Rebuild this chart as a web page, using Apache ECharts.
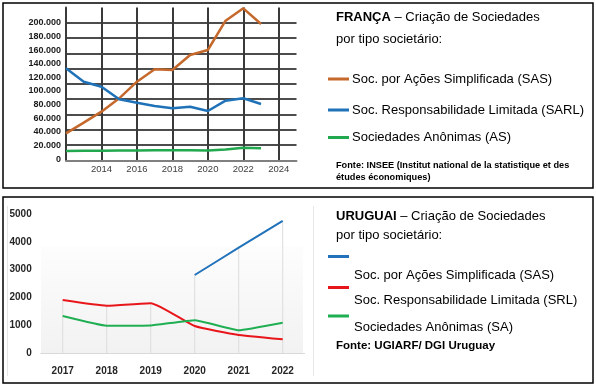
<!DOCTYPE html>
<html><head><meta charset="utf-8">
<script src="https://cdn.jsdelivr.net/npm/echarts@6/dist/echarts.min.js"></script>
<style>html,body{margin:0;padding:0;background:#fff}#c{width:596px;height:385px}</style>
</head><body><div id="c"></div>
<script>
// ---------- FRANÇA ----------
const frYears = [2012, 2013, 2014, 2015, 2016, 2017, 2018, 2019, 2020, 2021, 2022, 2023];
const frSAS  = [35300, 49200, 63600, 81100, 102800, 119000, 118100, 137700, 144300, 182600, 198800, 178300];
const frSARL = [120300, 102800, 96300, 79800, 75300, 71000, 68000, 70100, 64500, 78000, 81100, 73600];
const frAS   = [12200, 12400, 12600, 12700, 12800, 13000, 13200, 13000, 12800, 14200, 16500, 15800];
const frXTicks = [2014, 2016, 2018, 2020, 2022, 2024];
const frNames = ['Soc. por Ações Simplificada (SAS)', 'Soc. Responsabilidade Limitada (SARL)', 'Sociedades Anônimas (AS)'];

// ---------- URUGUAI ----------
const uyYears = ['2017', '2018', '2019', '2020', '2021', '2022'];
const uySAS = [null, null, null, 2810, 3790, 4750];
const uySRL = [1910, 1710, 1800, 980, 660, 500];
const uySA  = [1340, 990, 1000, 1190, 830, 1100];
const uyNames = ['Soc. por Ações Simplificada (SAS)', 'Soc. Responsabilidade Limitada (SRL)', 'Sociedades Anônimas (SA)'];

const C_OR = '#C5682B', C_BL = '#1F72B8', C_GR = '#22A84E';
const U_BL = '#2172BA', U_RD = '#E8161B', U_GR = '#1FAF52';
const F = "'Liberation Sans', Arial, sans-serif";
const FN = "'Liberation Sans Narrow', 'DejaVu Sans Condensed', 'Liberation Sans', sans-serif";

const pairs = arr => frYears.map((y, i) => [y, arr[i]]);
const thousand = v => v === 0 ? '0' : (v / 1000) + '.000';
const dropVals = uyYears.map((_, i) => Math.max(...[uySAS[i], uySRL[i], uySA[i]].filter(v => v != null)));

const chart = echarts.init(document.getElementById('c'), null, {renderer: 'canvas'});

function txt(x, y, text, size, extra) {
  return Object.assign({type: 'text', x: x, y: y, z: 10, style: Object.assign({
    text: text, fontSize: size, fontFamily: F, fill: '#000', align: 'left', verticalAlign: 'middle'}, extra || {})});
}
function seg(x1, x2, y, color) {
  return {type: 'line', z: 10, shape: {x1: x1, y1: y, x2: x2, y2: y}, style: {stroke: color, lineWidth: 3}};
}
const bold13 = {rich: {b: {fontWeight: 'bold', fontSize: 13, fontFamily: F, fill: '#000'}}};

chart.setOption({
  animation: false,
  grid: [
    {left: 66, right: 299.5, top: 7.4, bottom: 224.7},
    {left: 66, right: 299.5, top: 22.7, bottom: 225.7},
    {left: 40.7, right: 291.3, top: 214, bottom: 31.7}
  ],
  xAxis: [
    {gridIndex: 0, type: 'value', min: 2012, max: 2025, interval: 2,
     axisLine: {show: true, onZero: false, lineStyle: {color: '#808080', width: 2}},
     axisTick: {show: false},
     axisLabel: {formatter: v => frXTicks.includes(v) ? String(v) : '', fontSize: 9.5, color: '#404040', margin: 4, fontFamily: F},
     splitLine: {show: true, showMinLine: false, showMaxLine: false, lineStyle: {color: '#3a3a3a', width: 2}}},
    {gridIndex: 1, type: 'value', min: 2012, max: 2025, show: false},
    {gridIndex: 2, type: 'category', data: uyYears, boundaryGap: true,
     axisLine: {show: true, lineStyle: {color: '#d9d9d9', width: 1}},
     axisTick: {show: false},
     axisLabel: {fontWeight: 'bold', fontSize: 10, fontFamily: F, color: '#262626', margin: 13},
     splitLine: {show: false}}
  ],
  yAxis: [
    {gridIndex: 0, type: 'value', min: 0, max: 200000, interval: 20000,
     axisLine: {show: true, onZero: false, lineStyle: {color: '#3a3a3a', width: 2}},
     axisTick: {show: false}, axisLabel: {show: false},
     splitLine: {show: true, showMinLine: false, showMaxLine: false, lineStyle: {color: '#111', width: 1.5}}},
    {gridIndex: 1, type: 'value', min: 0, max: 200000, interval: 20000,
     axisLine: {show: false}, axisTick: {show: false}, splitLine: {show: false},
     axisLabel: {formatter: thousand, fontSize: 9, fontWeight: 'bold', color: '#1a1a1a', margin: 5, fontFamily: F}},
    {gridIndex: 2, type: 'value', min: 0, max: 5000, interval: 1000,
     axisLine: {show: false}, axisTick: {show: false}, splitLine: {show: false},
     axisLabel: {formatter: v => String(v), fontSize: 10, fontWeight: 'bold', color: '#262626', margin: 9, fontFamily: F}}
  ],
  series: [
    {name: frNames[0], type: 'line', xAxisIndex: 0, yAxisIndex: 0, data: pairs(frSAS), showSymbol: false, clip: false,
     lineStyle: {color: C_OR, width: 2.5}, itemStyle: {color: C_OR}},
    {name: frNames[1], type: 'line', xAxisIndex: 0, yAxisIndex: 0, data: pairs(frSARL), showSymbol: false,
     lineStyle: {color: C_BL, width: 2.5}, itemStyle: {color: C_BL}},
    {name: frNames[2], type: 'line', xAxisIndex: 0, yAxisIndex: 0, data: pairs(frAS), showSymbol: false,
     lineStyle: {color: C_GR, width: 2.5}, itemStyle: {color: C_GR}},
    {name: 'drop', type: 'bar', xAxisIndex: 2, yAxisIndex: 2, data: dropVals, barWidth: 1, silent: true, z: 1,
     itemStyle: {color: '#dcdcdc'}},
    {name: uyNames[0], type: 'line', xAxisIndex: 2, yAxisIndex: 2, data: uySAS, showSymbol: false, smooth: 0.1,
     lineStyle: {color: U_BL, width: 2}, itemStyle: {color: U_BL}},
    {name: uyNames[1], type: 'line', xAxisIndex: 2, yAxisIndex: 2, data: uySRL, showSymbol: false, smooth: 0.15,
     lineStyle: {color: U_RD, width: 2}, itemStyle: {color: U_RD}},
    {name: uyNames[2], type: 'line', xAxisIndex: 2, yAxisIndex: 2, data: uySA, showSymbol: false, smooth: 0.1,
     lineStyle: {color: U_GR, width: 2}, itemStyle: {color: U_GR}}
  ],
  graphic: [
    {type: 'rect', z: -1, shape: {x: 41, y: 246, width: 262, height: 107},
     style: {fill: new echarts.graphic.LinearGradient(0, 0, 0, 1, [{offset: 0, color: '#fdfdfd'}, {offset: 1, color: '#f2f2f2'}])}},
    {type: 'line', z: -1, shape: {x1: 7.5, y1: 206, x2: 7.5, y2: 376}, style: {stroke: '#e6e6e6', lineWidth: 1}},
    {type: 'line', z: -1, shape: {x1: 313.5, y1: 206, x2: 313.5, y2: 376}, style: {stroke: '#e6e6e6', lineWidth: 1}},
    {type: 'rect', z: 10, shape: {x: 3, y: 3, width: 590, height: 185}, style: {fill: 'none', stroke: '#000', lineWidth: 1.5}},
    {type: 'rect', z: 10, shape: {x: 3, y: 197, width: 590, height: 186}, style: {fill: 'none', stroke: '#000', lineWidth: 1.5}},
    // France text block
    txt(336, 17, '{b|FRANÇA} – Criação de Sociedades', 13, bold13),
    txt(336, 39, 'por tipo societário:', 13),
    seg(328, 349, 79, C_OR), txt(352, 79, frNames[0], 13),
    seg(328, 349, 110, C_BL), txt(352, 110, frNames[1], 13),
    seg(328, 349, 137.5, C_GR), txt(352, 137.5, frNames[2], 13),
    txt(336, 165, 'Fonte: INSEE (Institut national de la statistique et des', 9.2, {fontWeight: 'bold'}),
    txt(336, 177.5, 'études économiques)', 9.2, {fontWeight: 'bold'}),
    // Uruguay text block
    txt(336, 216, '{b|URUGUAI} – Criação de Sociedades', 13, bold13),
    txt(336, 235, 'por tipo societário:', 13),
    seg(328, 349, 256.5, U_BL), txt(354, 275, uyNames[0], 13),
    seg(328, 349, 287.5, U_RD), txt(354, 300, uyNames[1], 13),
    seg(328, 349, 316, U_GR), txt(354, 327, uyNames[2], 13),
    txt(336, 346, 'Fonte: UGIARF/ DGI Uruguay', 11.5, {fontWeight: 'bold'})
  ]
});
</script></body></html>
